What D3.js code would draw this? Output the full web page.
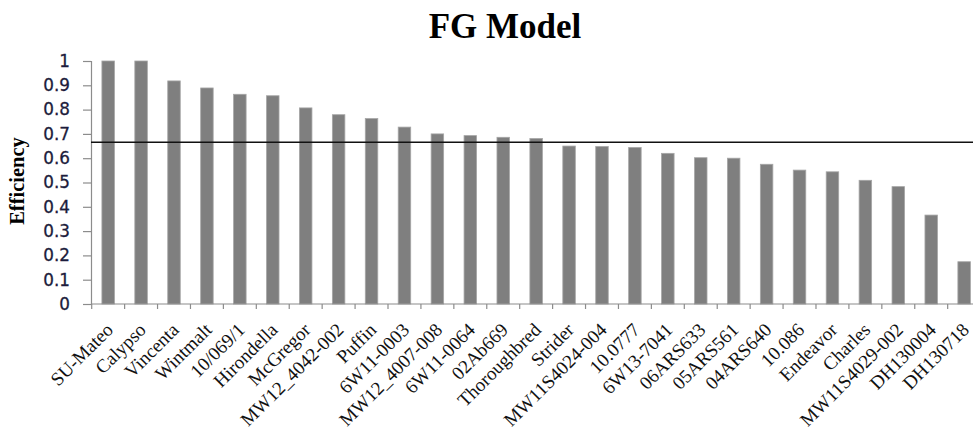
<!DOCTYPE html>
<html><head><meta charset="utf-8">
<script src="https://cdn.jsdelivr.net/npm/d3@7"></script>
<style>html,body{margin:0;padding:0;background:#fff;}svg{display:block;}</style>
</head><body>
<svg id="chart" width="973" height="432"></svg>
<script>
const categories = ["SU-Mateo","Calypso","Vincenta","Wintmalt","10/069/1","Hirondella","McGregor","MW12_4042-002","Puffin","6W11-0003","MW12_4007-008","6W11-0064","02Ab669","Thoroughbred","Strider","MW11S4024-004","10.0777","6W13-7041","06ARS633","05ARS561","04ARS640","10.086","Endeavor","Charles","MW11S4029-002","DH130004","DH130718"];
const efficiency = [1.0,1.0,0.918,0.889,0.863,0.857,0.807,0.779,0.763,0.728,0.700,0.693,0.686,0.681,0.650,0.648,0.644,0.620,0.602,0.600,0.575,0.551,0.544,0.509,0.483,0.366,0.174];
const threshold = 0.666;
const yTicks = [0,0.1,0.2,0.3,0.4,0.5,0.6,0.7,0.8,0.9,1];
const title = "FG Model";
const yLabel = "Efficiency";

const svg = d3.select("#chart");
const x = d3.scaleBand().domain(categories).range([91.7, 980.6]).paddingInner(0.62).paddingOuter(0.31);
const y = d3.scaleLinear().domain([0,1]).range([304, 61]);

// bars
svg.append("g").selectAll("rect").data(categories).join("rect")
  .attr("x", d => x(d))
  .attr("y", (d,i) => y(efficiency[i]))
  .attr("width", x.bandwidth())
  .attr("height", (d,i) => y(0) - y(efficiency[i]))
  .attr("fill", "#7f7f7f")
  .attr("stroke", "#a6a6a6").attr("stroke-width", 0.8);

// y axis
const yAxis = svg.append("g").attr("transform", "translate(91,0)")
  .call(d3.axisLeft(y).tickValues(yTicks).tickFormat(d3.format("")).tickSize(8).tickPadding(13));
yAxis.select(".domain").attr("stroke", "#8c8c8c").attr("stroke-width", 1.2);
yAxis.selectAll(".tick line").attr("stroke", "#8c8c8c").attr("stroke-width", 1.2);
yAxis.selectAll(".tick text").attr("font-family", "DejaVu Sans, Verdana, sans-serif").attr("font-size", 16.8)
  .attr("fill", "#1c1c3c").attr("stroke", "#1c1c3c").attr("stroke-width", 0.3);

// x axis
const step = x.step();
const xAxis = svg.append("g").attr("transform", "translate(0,304)");
xAxis.append("line").attr("x1", 91).attr("x2", 973).attr("stroke", "#8c8c8c").attr("stroke-width", 1.2);
xAxis.selectAll("line.tk").data(categories).join("line").attr("class","tk")
  .attr("x1", d => x(d) - step*0.31).attr("x2", d => x(d) - step*0.31)
  .attr("y1", 0).attr("y2", 5).attr("stroke", "#8c8c8c").attr("stroke-width", 1.2);
xAxis.selectAll("text").data(categories).join("text")
  .attr("transform", d => `translate(${x(d) + x.bandwidth()/2 + 6},${27}) rotate(-45)`)
  .attr("text-anchor", "end")
  .attr("font-family", "Liberation Serif, Times New Roman, serif")
  .attr("font-size", 19)
  .attr("fill", "#111")
  .text(d => d);

// threshold line
svg.append("line").attr("x1", 91).attr("x2", 973).attr("y1", y(threshold)).attr("y2", y(threshold))
  .attr("stroke", "#111").attr("stroke-width", 1.5);

// title
svg.append("text").attr("x", 505).attr("y", 38).attr("text-anchor", "middle")
  .attr("font-family", "Liberation Serif, Times New Roman, serif").attr("font-weight", "bold")
  .attr("font-size", 35).attr("fill", "#000").text(title);

// y label
svg.append("text").attr("transform", "translate(24,181) rotate(-90)").attr("text-anchor", "middle")
  .attr("font-family", "Liberation Serif, Times New Roman, serif").attr("font-weight", "bold")
  .attr("font-size", 20.5).attr("fill", "#000").text(yLabel);
</script>
</body></html>
